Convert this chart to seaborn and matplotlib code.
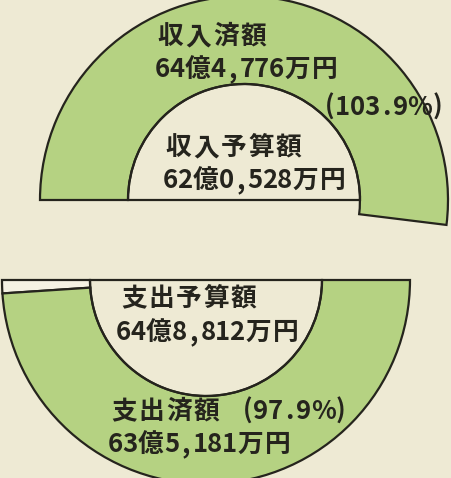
import matplotlib
matplotlib.use("Agg")
import matplotlib.pyplot as plt
from matplotlib.patches import Wedge
import seaborn as sns

# 収入・支出の決算データ
income_labels = ["収入済額", "収入予算額"]
income_amounts = ["64億4,776万円", "62億0,528万円"]
income_rate = 103.9

expense_labels = ["支出予算額", "支出済額"]
expense_amounts = ["64億8,812万円", "63億5,181万円"]
expense_rate = 97.9

# 見た目
BG = "#EEEAD4"
GREEN = "#B5D282"
INK = "#25241D"
FONT = ["Noto Sans CJK JP", "DejaVu Sans"]

sns.set_theme(style="white")
plt.rcParams["font.family"] = FONT

fig = plt.figure(figsize=(4.51, 4.78), dpi=100, facecolor=BG)
ax = fig.add_axes([0, 0, 1, 1])
ax.set_facecolor(BG)
ax.set_xlim(0, 451)
ax.set_ylim(0, 478)
ax.set_aspect("equal")
ax.axis("off")

R_OUT, R_IN = 204, 116


def pitch(c):
    # 1文字ずつの送り幅（原図は字間が広い）
    if c in "()":
        return 11.5
    if c == "%":
        return 24
    if ord(c) > 0x2E80:
        return 27.5
    return 14.4


def txt(x, y, s):
    # x は左端、y は画像の上から測ったベースライン
    for c in s:
        w = pitch(c)
        ax.text(x + w / 2, 478 - y, c, ha="center", va="baseline",
                fontsize=18.5, fontweight="bold", color=INK, family=FONT)
        x += w


# 上：収入（上半円）
cx, cy = 244, 478 - 200
extra = (income_rate - 100) / 100 * 180
ax.add_patch(Wedge((cx, cy), R_OUT, -extra, 180, width=R_OUT - R_IN,
                   facecolor=GREEN, edgecolor=INK, lw=1.6))
ax.add_patch(Wedge((cx, cy), R_IN, 0, 180, facecolor="none",
                   edgecolor=INK, lw=1.6))

txt(157, 44, income_labels[0])
txt(155, 77, income_amounts[0])
txt(324, 115, f"({income_rate}%)")
txt(165, 155, income_labels[1])
txt(163, 188, income_amounts[1])

# 下：支出（下半円）
cx, cy = 206, 478 - 280
gap = (100 - expense_rate) / 100 * 180
ax.add_patch(Wedge((cx, cy), R_OUT, 180, 180 + gap, width=R_OUT - R_IN,
                   facecolor="#F5F2E3", edgecolor=INK, lw=1.6))
ax.add_patch(Wedge((cx, cy), R_OUT, 180 + gap, 360, width=R_OUT - R_IN,
                   facecolor=GREEN, edgecolor=INK, lw=1.6))
ax.add_patch(Wedge((cx, cy), R_IN, 180, 360, facecolor="none",
                   edgecolor=INK, lw=1.6))

txt(120, 306, expense_labels[0])
txt(116, 340, expense_amounts[0])
txt(110, 419, expense_labels[1])
txt(242, 419, f"({expense_rate}%)")
txt(108, 452, expense_amounts[1])

fig.savefig("out.png", dpi=100, facecolor=BG)
